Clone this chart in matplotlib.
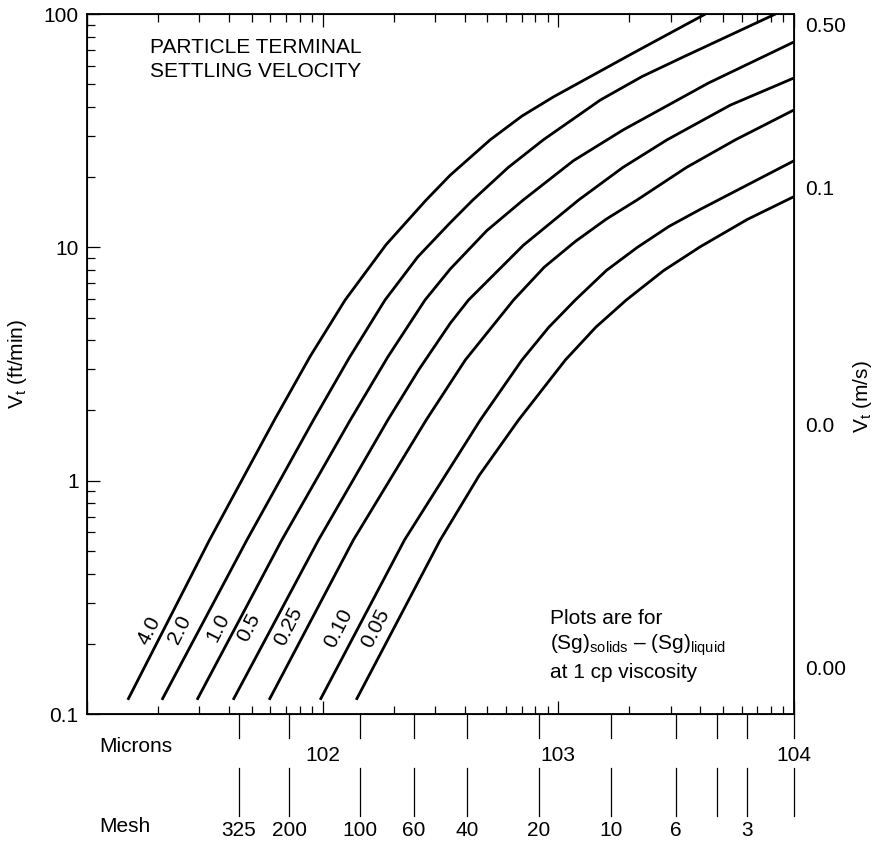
import matplotlib
matplotlib.use("Agg")
import matplotlib.pyplot as plt
from matplotlib.ticker import NullFormatter, NullLocator

plt.rcParams['font.family'] = ['Liberation Sans', 'DejaVu Sans']
plt.rcParams['mathtext.fontset'] = 'custom'
plt.rcParams['mathtext.rm'] = 'Liberation Sans'
plt.rcParams['mathtext.it'] = 'Liberation Sans'
plt.rcParams['mathtext.default'] = 'regular'

# (Sg)solids - (Sg)liquid for each curve
sg_labels = ["4.0", "2.0", "1.0", "0.5", "0.25", "0.10", "0.05"]

# particle size (microns) and terminal velocity (ft/min)
d_40 = [14.9, 33.1, 62.4, 88.5, 124.6, 186, 275, 348, 514, 700, 952, 2082, 4209]
v_40 = [0.115, 0.557, 1.82, 3.41, 5.95, 10.28, 15.96, 20.4, 28.9, 36.5, 44.1, 68.1, 100]
d_20 = [20.8, 47.7, 91.4, 129.6, 184, 253, 348, 434, 613, 864, 1508, 2262, 3395, 8344]
v_20 = [0.115, 0.557, 1.82, 3.36, 5.95, 9.09, 12.76, 15.96, 22.0, 28.9, 42.8, 53.9, 65.5, 100]
d_10 = [29.3, 67.1, 131, 189, 272, 348, 497, 710, 1158, 1888, 4335, 10000]
v_10 = [0.115, 0.557, 1.82, 3.39, 5.95, 8.08, 11.79, 15.96, 23.5, 31.9, 50.6, 75.9]
d_05 = [41.7, 96.0, 189, 257, 348, 416, 710, 1220, 1879, 2894, 5370, 10000]
v_05 = [0.115, 0.557, 1.82, 3.01, 4.73, 5.95, 10.2, 15.96, 22.0, 28.9, 40.7, 53.2]
d_025 = [59.3, 135, 275, 403, 646, 872, 1181, 1599, 2159, 3496, 5643, 10000]
v_025 = [0.115, 0.557, 1.82, 3.29, 5.95, 8.23, 10.6, 13.22, 15.96, 22.0, 28.9, 38.8]
d_010 = [97.6, 222.5, 466.5, 701, 910, 1181, 1599, 2165, 2946, 4009, 10000]
v_010 = [0.115, 0.557, 1.82, 3.29, 4.54, 5.95, 7.96, 10.0, 12.29, 14.56, 23.5]
d_005 = [138.8, 315.4, 462, 678, 1071, 1443, 1944, 2792, 4009, 6346, 10000]
v_005 = [0.115, 0.557, 1.055, 1.82, 3.29, 4.55, 5.95, 7.94, 10.07, 13.18, 16.5]

curves_d = [d_40, d_20, d_10, d_05, d_025, d_010, d_005]
curves_v = [v_40, v_20, v_10, v_05, v_025, v_010, v_005]

# where the curve labels sit (microns, ft/min)
label_d = [18.4, 24.8, 36.1, 48.4, 71.6, 116.7, 167.1]
label_v = [0.229, 0.229, 0.234, 0.234, 0.237, 0.234, 0.234]

# left axis ticks
y_ticks = [0.1, 1, 10, 100]
y_ticklabels = ["0.1", "1", "10", "100"]

# right axis (m/s) labels, placed on the ft/min scale
right_pos = [89.8, 17.97, 1.733, 0.159]
right_labels = ["0.50", "0.1", "0.0", "0.00"]

# micron decade labels
micron_pos = [100, 1000, 10000]
micron_labels = ["102", "103", "104"]

# mesh sizes (position in microns)
mesh_pos = [44, 72, 144, 244, 409, 828, 1667, 3148, 4720, 6324, 10000]
mesh_labels = ["325", "200", "100", "60", "40", "20", "10", "6", "", "3", ""]

fs = 15

fig = plt.figure(figsize=(8.85, 8.42), dpi=100)
ax = fig.add_axes([87 / 885, 1 - 714 / 842, 707 / 885, 700 / 842])
ax.set_xscale('log')
ax.set_yscale('log')
ax.set_xlim(10, 1e4)
ax.set_ylim(0.1, 100)

for d, v in zip(curves_d, curves_v):
    ax.plot(d, v, color='black', lw=2.0, solid_capstyle='butt',
            solid_joinstyle='round')

for lab, x, y in zip(sg_labels, label_d, label_v):
    ax.text(x, y, lab, rotation=63, fontsize=fs, ha='center', va='center',
            rotation_mode='anchor')

# ticks
ax.set_yticks(y_ticks)
ax.set_yticklabels(y_ticklabels)
ax.yaxis.set_minor_formatter(NullFormatter())
ax.xaxis.set_minor_formatter(NullFormatter())
ax.tick_params(which='both', direction='in', top=True, right=True,
               labelbottom=False, width=0.9, colors='black')
ax.tick_params(which='major', length=9.5)
ax.tick_params(which='minor', length=6)
ax.tick_params(axis='y', labelsize=fs, pad=6)
for s in ax.spines.values():
    s.set_linewidth(1.3)

# right axis labels (m/s)
ax2 = ax.twinx()
ax2.set_yscale('log')
ax2.set_ylim(0.1, 100)
ax2.set_yticks(right_pos)
ax2.set_yticklabels(right_labels)
ax2.yaxis.set_minor_locator(NullLocator())
ax2.tick_params(length=0, labelsize=fs, pad=8)

fig.text(18 / 885, 1 - 364 / 842, 'V$_t$ (ft/min)', rotation=90,
         ha='center', va='center', fontsize=fs)
fig.text(862 / 885, 1 - 397 / 842, 'V$_t$ (m/s)', rotation=90,
         ha='center', va='center', fontsize=fs)

# notes
ax.text(0.089, 0.966, "PARTICLE TERMINAL\nSETTLING VELOCITY", transform=ax.transAxes,
        ha='left', va='top', fontsize=fs, linespacing=1.37)
ax.text(0.655, 0.137, "Plots are for", transform=ax.transAxes,
        ha='left', va='center', fontsize=fs)
ax.text(0.655, 0.0986, "(Sg)$_{solids}$ \u2013 (Sg)$_{liquid}$", transform=ax.transAxes,
        ha='left', va='center', fontsize=fs)
ax.text(0.655, 0.06, "at 1 cp viscosity", transform=ax.transAxes,
        ha='left', va='center', fontsize=fs)

# micron and mesh rows under the axis
xt = ax.get_xaxis_transform()
for x in mesh_pos:
    ax.plot([x, x], [0, -0.0343], transform=xt, color='black', lw=0.9, clip_on=False)
    ax.plot([x, x], [-0.0771, -0.1457], transform=xt, color='black', lw=0.9, clip_on=False)
for x, lab in zip(mesh_pos, mesh_labels):
    ax.text(x, -0.166, lab, transform=xt, ha='center', va='center', fontsize=fs)
for x, lab in zip(micron_pos, micron_labels):
    ax.text(x, -0.0586, lab, transform=xt, ha='center', va='center', fontsize=fs)

fig.text(99 / 885, 1 - 747 / 842, "Microns", ha='left', va='center', fontsize=fs)
fig.text(99 / 885, 1 - 826 / 842, "Mesh", ha='left', va='center', fontsize=fs)

fig.savefig("out.png", dpi=100)
